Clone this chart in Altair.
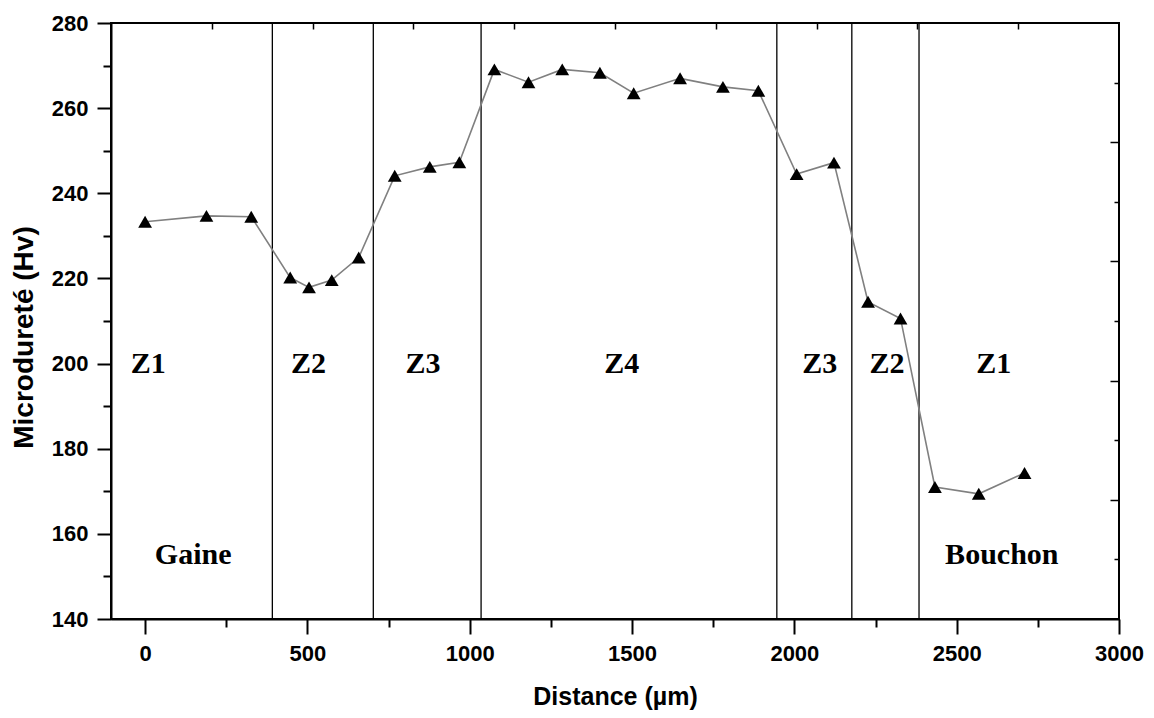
import altair as alt
import pandas as pd

# ---- data ----
distance = [0, 189, 327, 447, 505, 575, 658, 769, 877, 968, 1076, 1181, 1285,
            1401, 1505, 1648, 1780, 1889, 2007, 2122, 2227, 2327, 2433, 2568, 2709]
hardness = [233.3, 234.7, 234.5, 220.2, 217.9, 219.6, 224.9, 244.1, 246.2, 247.3,
            269.1, 266.1, 269.1, 268.3, 263.5, 267.0, 265.0, 264.1, 244.5, 247.2,
            214.5, 210.6, 171.0, 169.4, 174.3]

boundaries = [392, 703, 1035, 1946, 2177, 2384]

zone_labels = ["Z1", "Z2", "Z3", "Z4", "Z3", "Z2", "Z1"]
zone_x = [10, 503, 856, 1468, 2078, 2285, 2614]
zone_y = [200] * 7

part_labels = ["Gaine", "Bouchon"]
part_x = [148, 2639]
part_y = [155, 155]

x_ticks = [0, 250, 500, 750, 1000, 1250, 1500, 1750, 2000, 2250, 2500, 2750, 3000]
y_ticks = [140, 150, 160, 170, 180, 190, 200, 210, 220, 230, 240, 250, 260, 270, 280]
top_ticks = [205.5, 516, 826.5, 1137, 1447.5, 1758, 2068.5, 2379, 2689.5]
right_major = [252, 224, 196, 168]
right_minor = [266, 238, 210, 182, 154]

df = pd.DataFrame({"distance": distance, "hardness": hardness})
df_b = pd.DataFrame({"distance": boundaries})
df_z = pd.DataFrame({"distance": zone_x, "hardness": zone_y, "label": zone_labels})
df_p = pd.DataFrame({"distance": part_x, "hardness": part_y, "label": part_labels})

xs = alt.Scale(domain=[-105, 3000], nice=False, zero=False)
ys = alt.Scale(domain=[140, 280], nice=False, zero=False)

SANS = "Liberation Sans"
SERIF = "Liberation Serif"

x_axis = alt.Axis(
    values=x_ticks, format="d",
    labelExpr="datum.value % 500 === 0 ? datum.label : ''",
    tickSize={"condition": {"test": "datum.value % 500 === 0", "value": 15}, "value": 8},
    tickColor="black", tickWidth=2, domainColor="black", domainWidth=2,
    labelFont=SANS, labelFontWeight="bold", labelFontSize=22, labelColor="black",
    labelPadding=9, labelFlush=False, labelOverlap=False, grid=False,
    title="Distance (µm)", titleFont=SANS, titleFontWeight="bold", titleFontSize=25,
    titleColor="black", titleBaseline="alphabetic", titleY=85,
)
y_axis = alt.Axis(
    values=y_ticks,
    labelExpr="datum.value % 20 === 0 ? datum.label : ''",
    tickSize={"condition": {"test": "datum.value % 20 === 0", "value": 14}, "value": 8},
    tickColor="black", tickWidth=2, domainColor="black", domainWidth=2,
    labelFont=SANS, labelFontWeight="bold", labelFontSize=22, labelColor="black",
    labelPadding=9, labelFlush=False, labelOverlap=False, grid=False,
    title="Microdureté (Hv)", titleFont=SANS, titleFontWeight="bold", titleFontSize=28,
    titleColor="black", titleBaseline="alphabetic", titleX=-79, titleY=314,
)

rules = alt.Chart(df_b).mark_rule(color="black", strokeWidth=1.3).encode(
    x=alt.X("distance:Q", scale=xs, axis=None)
)

line = alt.Chart(df).mark_line(color="#808080", strokeWidth=1.6).encode(
    x=alt.X("distance:Q", scale=xs, axis=x_axis),
    y=alt.Y("hardness:Q", scale=ys, axis=y_axis),
)

pts = alt.Chart(df).mark_point(shape="triangle-up", filled=True, color="black",
                               size=190, opacity=1).encode(
    x=alt.X("distance:Q", scale=xs, axis=None),
    y=alt.Y("hardness:Q", scale=ys, axis=None),
)

zones = alt.Chart(df_z).mark_text(font=SERIF, fontWeight="bold", fontSize=30,
                                  color="black", baseline="middle").encode(
    x=alt.X("distance:Q", scale=xs, axis=None),
    y=alt.Y("hardness:Q", scale=ys, axis=None),
    text="label:N",
)

parts = alt.Chart(df_p).mark_text(font=SERIF, fontWeight="bold", fontSize=30,
                                  color="black", baseline="middle").encode(
    x=alt.X("distance:Q", scale=xs, axis=None),
    y=alt.Y("hardness:Q", scale=ys, axis=None),
    text="label:N",
)

deco_major = alt.Chart(df).mark_point(opacity=0).encode(
    x=alt.X("distance:Q", scale=xs, axis=alt.Axis(
        orient="top", values=top_ticks, labels=False, domain=False, grid=False,
        tickSize=6, offset=-6, tickColor="black", tickWidth=1.5, title=None)),
    y=alt.Y("hardness:Q", scale=ys, axis=alt.Axis(
        orient="right", values=right_major, labels=False, domain=False, grid=False,
        tickSize=9, offset=-9, tickColor="black", tickWidth=1.5, title=None)),
)

deco_minor = alt.Chart(df).mark_point(opacity=0).encode(
    x=alt.X("distance:Q", scale=xs, axis=None),
    y=alt.Y("hardness:Q", scale=ys, axis=alt.Axis(
        orient="right", values=right_minor, labels=False, domain=False, grid=False,
        tickSize=5, offset=-5, tickColor="black", tickWidth=1.5, title=None)),
)

chart = alt.layer(rules, line, pts, zones, parts, deco_major, deco_minor).resolve_axis(
    x="independent", y="independent"
).properties(
    width=1008, height=596,
    autosize=alt.AutoSizeParams(type="none"),
    padding={"left": 103, "top": 15, "right": 27, "bottom": 91},
    background="white",
).configure_view(stroke="black", strokeWidth=2)

chart.save("out.html", embed_options={"renderer": "svg", "actions": False})
